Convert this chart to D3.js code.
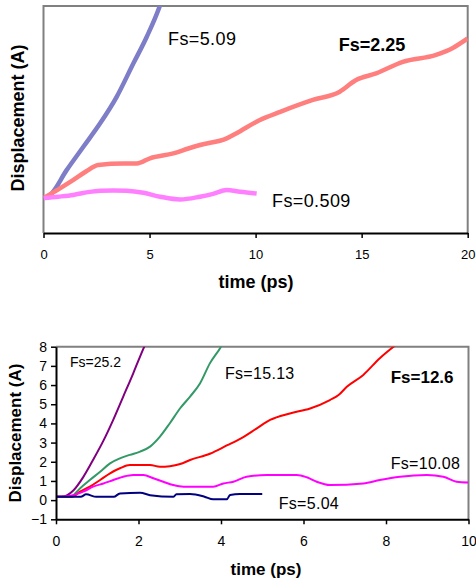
<!DOCTYPE html>
<html>
<head>
<meta charset="utf-8">
<script src="https://cdn.jsdelivr.net/npm/d3@7"></script>
<style>
  body { margin: 0; background: #fff; }
  svg { display: block; font-family: "Liberation Sans", Arial, sans-serif; }
</style>
</head>
<body>
<div id="chart"></div>
<script>
// Top panel data: [time (ps), displacement]
const fs509 = [[0,0],[0.7,0.04],[1.41,0.09],[2.1,0.17],[2.67,0.21],[3.3,0.22],[3.92,0.21],[4.71,0.15],[5.5,0.04],[6.44,-0.04],[7.38,0.04],[8.0,0.12],[8.64,0.23],[9.27,0.18],[10.05,0.13]];
const fs225 = [[0,0],[0.7,0.25],[1.41,0.52],[2.0,0.76],[2.58,0.95],[3.76,0.99],[4.4,0.99],[5.02,1.14],[6.12,1.28],[6.83,1.42],[7.38,1.52],[8.64,1.71],[9.08,1.85],[10.18,2.23],[11.16,2.47],[12.7,2.81],[13.95,3.04],[14.74,3.38],[15.68,3.57],[16.94,3.9],[18.51,4.1],[19.3,4.3],[20.0,4.57]];
const fs509b = [[0,0],[0.31,0.09],[1.09,0.8],[1.88,1.47],[2.67,2.14],[3.45,2.9],[4.24,3.86],[4.87,4.62],[5.5,5.53],[5.7,5.9]];

// Bottom panel data
const fs252 = [[0,0.17],[0.14,0.17],[0.42,0.5],[0.66,1.2],[0.9,2.1],[1.15,3.1],[1.39,4.2],[1.63,5.4],[1.87,6.6],[2.04,7.5],[2.2,8.3]];
const fs1513 = [[0,0.17],[0.34,0.17],[0.58,0.61],[0.82,1.05],[1.07,1.48],[1.31,1.92],[1.55,2.18],[1.79,2.36],[2.04,2.53],[2.28,2.79],[2.52,3.31],[2.76,4.01],[3.01,4.79],[3.25,5.4],[3.49,6.08],[3.73,7.13],[4.0,8.0],[4.1,8.4]];
const fs126 = [[0,0.17],[0.38,0.17],[0.58,0.44],[0.82,0.7],[1.07,1.05],[1.31,1.4],[1.55,1.66],[1.79,1.83],[2.28,1.83],[2.52,1.74],[2.76,1.77],[3.01,1.88],[3.25,2.09],[3.73,2.42],[4.14,2.85],[4.54,3.29],[4.86,3.73],[5.19,4.18],[5.67,4.52],[6.16,4.78],[6.64,5.22],[6.85,5.48],[7.05,5.91],[7.45,6.53],[7.85,7.4],[8.34,8.26]];
const fs1008 = [[0,0.17],[0.42,0.26],[0.66,0.44],[0.9,0.7],[1.15,0.87],[1.39,1.05],[1.63,1.22],[1.87,1.31],[2.12,1.31],[2.36,1.14],[2.6,0.96],[2.84,0.79],[3.09,0.7],[3.81,0.7],[4.06,0.87],[4.3,0.96],[4.62,1.22],[5.11,1.31],[5.84,1.31],[6.08,1.19],[6.32,0.96],[6.64,0.79],[7.45,0.87],[7.85,1.05],[8.34,1.22],[8.99,1.31],[9.39,1.22],[9.71,0.96],[10.0,0.92]];
const fs504 = [[0,0.17],[0.6,0.17],[0.73,0.3],[0.98,0.17],[1.4,0.17],[1.55,0.35],[2.04,0.38],[2.28,0.26],[2.84,0.17],[2.92,0.3],[3.25,0.32],[3.6,0.18],[3.81,0.04],[4.14,0.04],[4.22,0.27],[4.46,0.32],[5.0,0.32]];

const topTicks = [0, 5, 10, 15, 20];
const bottomXTicks = [0, 2, 4, 6, 8, 10];
const bottomYTicks = [-1, 0, 1, 2, 3, 4, 5, 6, 7, 8];

const svg = d3.select("#chart")
  .append("svg")
  .attr("width", 476)
  .attr("height", 583);

// ---------- Top panel ----------
const m1 = { left: 43.5, top: 6, width: 424.2, height: 227 };
const x1 = d3.scaleLinear().domain([0, 20]).range([0, m1.width]);
const y1 = d3.scaleLinear().domain([-1, 5.5]).range([m1.height, 0]);

const g1 = svg.append("g").attr("transform", "translate(" + m1.left + "," + m1.top + ")");

svg.append("clipPath").attr("id", "clip1")
  .append("rect").attr("width", m1.width).attr("height", m1.height);

// grey frame (left, top, right)
g1.append("path")
  .attr("d", "M0," + m1.height + "V0H" + m1.width + "V" + m1.height)
  .attr("fill", "none")
  .attr("stroke", "#808080")
  .attr("stroke-width", 2);

const line1 = d3.line().curve(d3.curveMonotoneX).x(d => x1(d[0])).y(d => y1(d[1]));
const topSeries = [
  { data: fs509b, color: "#7d7dc8" },
  { data: fs225, color: "#ff7f7f" },
  { data: fs509, color: "#ff80ff" }
];
g1.append("g").attr("clip-path", "url(#clip1)")
  .selectAll("path")
  .data(topSeries)
  .join("path")
  .attr("d", d => line1(d.data))
  .attr("fill", "none")
  .attr("stroke", d => d.color)
  .attr("stroke-width", 4.5)
  .attr("stroke-linejoin", "round");

const xAxis1 = g1.append("g")
  .attr("transform", "translate(0," + m1.height + ")")
  .call(d3.axisBottom(x1).tickValues(topTicks).tickSize(5).tickSizeOuter(0).tickPadding(12));
xAxis1.select(".domain").attr("stroke", "#000").attr("stroke-width", 2);
xAxis1.selectAll(".tick line").attr("stroke-width", 1.5);
xAxis1.selectAll("text").style("font-size", "13px").attr("fill", "#000");

svg.append("text")
  .attr("x", 256).attr("y", 288)
  .attr("text-anchor", "middle")
  .style("font-size", "18px").style("font-weight", "bold")
  .text("time (ps)");

svg.append("text")
  .attr("transform", "translate(24,118) rotate(-90)")
  .attr("text-anchor", "middle")
  .style("font-size", "18px").style("font-weight", "bold")
  .text("Displacement (A)");

svg.append("text").attr("x", 168).attr("y", 45)
  .style("font-size", "18px").style("letter-spacing", "0.4px").text("Fs=5.09");
svg.append("text").attr("x", 338.7).attr("y", 50.7)
  .style("font-size", "18px").style("font-weight", "bold").text("Fs=2.25");
svg.append("text").attr("x", 272).attr("y", 206.5)
  .style("font-size", "18px").style("letter-spacing", "0.4px").text("Fs=0.509");

// ---------- Bottom panel ----------
const m2 = { left: 56, top: 346.7, width: 412.5, height: 172.6 };
const x2 = d3.scaleLinear().domain([0, 10]).range([0, m2.width]);
const y2 = d3.scaleLinear().domain([-1, 8]).range([m2.height, 0]);

const g2 = svg.append("g").attr("transform", "translate(" + m2.left + "," + m2.top + ")");

svg.append("clipPath").attr("id", "clip2")
  .append("rect").attr("width", m2.width).attr("height", m2.height);

// grey top and right border
g2.append("path")
  .attr("d", "M0,0H" + m2.width + "V" + m2.height)
  .attr("fill", "none")
  .attr("stroke", "#808080")
  .attr("stroke-width", 2);

const line2 = d3.line().curve(d3.curveMonotoneX).x(d => x2(d[0])).y(d => y2(d[1]));
const bottomSeries = [
  { data: fs252, color: "#800080" },
  { data: fs1513, color: "#339966" },
  { data: fs126, color: "#ff0000" },
  { data: fs1008, color: "#ff00ff" },
  { data: fs504, color: "#000080" }
];
g2.append("g").attr("clip-path", "url(#clip2)")
  .selectAll("path")
  .data(bottomSeries)
  .join("path")
  .attr("d", d => line2(d.data))
  .attr("fill", "none")
  .attr("stroke", d => d.color)
  .attr("stroke-width", 2);

const xAxis2 = g2.append("g")
  .attr("transform", "translate(0," + m2.height + ")")
  .call(d3.axisBottom(x2).tickValues(bottomXTicks).tickSize(5).tickSizeOuter(0).tickPadding(12));
const yAxis2 = g2.append("g")
  .call(d3.axisLeft(y2).tickValues(bottomYTicks).tickSize(5).tickSizeOuter(0).tickPadding(4));
[xAxis2, yAxis2].forEach(a => {
  a.select(".domain").attr("stroke", "#000").attr("stroke-width", 2);
  a.selectAll(".tick line").attr("stroke-width", 1.5);
  a.selectAll("text").style("font-size", "14px").attr("fill", "#000");
});

svg.append("text")
  .attr("x", 266).attr("y", 575)
  .attr("text-anchor", "middle")
  .style("font-size", "17px").style("font-weight", "bold")
  .text("time (ps)");

svg.append("text")
  .attr("transform", "translate(21,433) rotate(-90)")
  .attr("text-anchor", "middle")
  .style("font-size", "17px").style("font-weight", "bold")
  .text("Displacement (A)");

svg.append("text").attr("x", 70).attr("y", 367.3)
  .style("font-size", "14px").text("Fs=25.2");
svg.append("text").attr("x", 225).attr("y", 379)
  .style("font-size", "16px").style("letter-spacing", "0.3px").text("Fs=15.13");
svg.append("text").attr("x", 390.7).attr("y", 382.7)
  .style("font-size", "17px").style("font-weight", "bold").text("Fs=12.6");
svg.append("text").attr("x", 390.7).attr("y", 469)
  .style("font-size", "16px").style("letter-spacing", "0.3px").text("Fs=10.08");
svg.append("text").attr("x", 278.7).attr("y", 509)
  .style("font-size", "16px").style("letter-spacing", "0.3px").text("Fs=5.04");
</script>
</body>
</html>
